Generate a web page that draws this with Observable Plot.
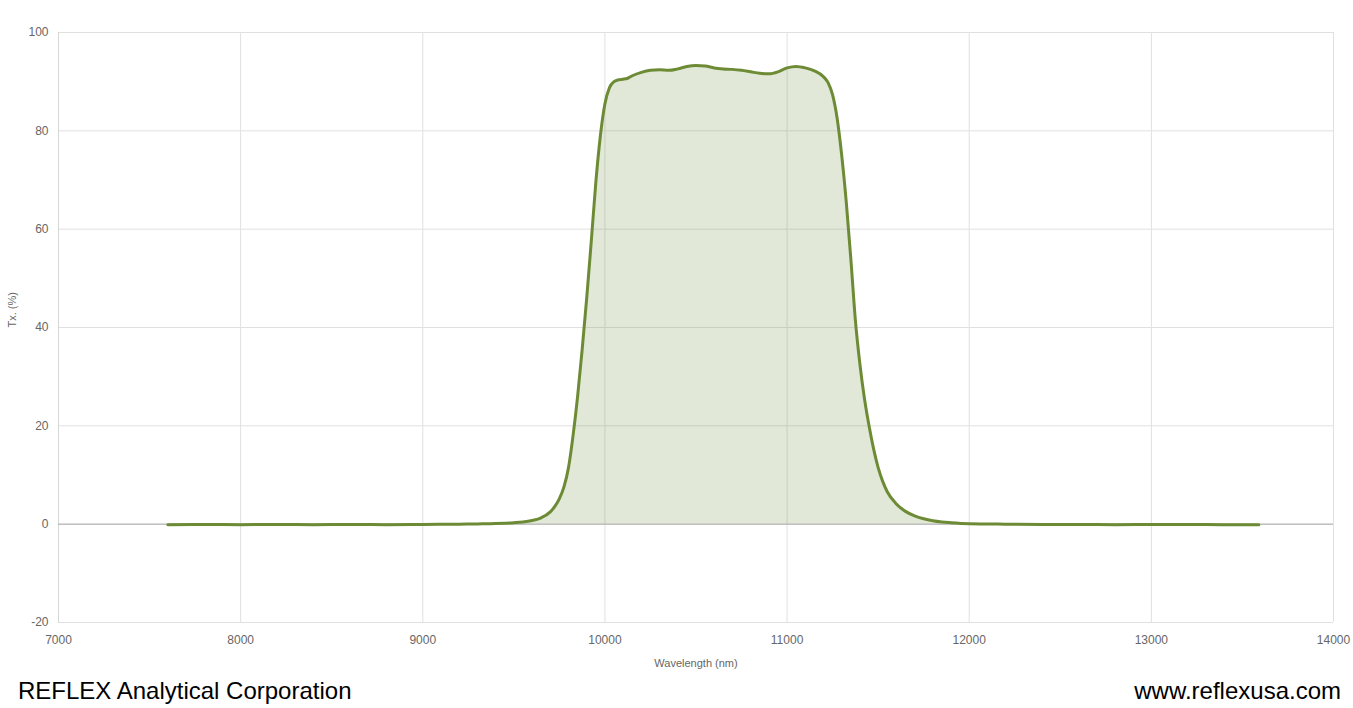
<!DOCTYPE html>
<html>
<head>
<meta charset="utf-8">
<script src="https://cdn.jsdelivr.net/npm/d3@7"></script>
<script src="https://cdn.jsdelivr.net/npm/@observablehq/plot@0.6"></script>
<style>
  html, body { margin: 0; padding: 0; background: #fff; }
  body { width: 1353px; height: 708px; position: relative; overflow: hidden; font-family: "Liberation Sans", Arial, sans-serif; }
  #chart { position: absolute; left: 0; top: 0; }
  .foot { position: absolute; top: 677px; font-size: 24px; line-height: 28px; color: #000; font-family: "Liberation Sans", Arial, sans-serif; }
  #left { left: 18px; }
  #right { right: 12px; }
</style>
</head>
<body>
<div id="chart"></div>
<div class="foot" id="left">REFLEX Analytical Corporation</div>
<div class="foot" id="right">www.reflexusa.com</div>
<script>
const wavelength = [
  7600, 7800, 8000, 8200, 8400, 8600, 8800, 9000, 9200, 9300, 9400, 9450, 9500, 9550, 9600, 9650,
  9700, 9725, 9750, 9775, 9800, 9825, 9850, 9875, 9900, 9925, 9950, 9975, 10000, 10025, 10050, 10075,
  10100, 10125, 10150, 10200, 10250, 10300, 10350, 10400, 10450, 10500, 10550, 10600, 10650, 10700,
  10750, 10800, 10850, 10900, 10950, 11000, 11050, 11100, 11150, 11200, 11225, 11250, 11275, 11300,
  11325, 11350, 11375, 11400, 11425, 11450, 11475, 11500, 11525, 11550, 11600, 11650, 11700, 11750,
  11800, 11850, 11900, 12000, 12200, 12400, 12600, 12800, 13000, 13200, 13400, 13590
];
const transmission = [
  -0.1, -0.05, -0.1, -0.05, -0.1, -0.05, -0.1, -0.05, 0, 0.05, 0.12, 0.2, 0.3, 0.45, 0.75, 1.3,
  2.5, 3.6, 5.2, 7.6, 11.5, 18, 26, 35.5, 46, 57.5, 69.5, 79, 85.5, 88.8, 90, 90.4,
  90.5, 90.7, 91.2, 91.9, 92.3, 92.4, 92.3, 92.6, 93.1, 93.3, 93.2, 92.8, 92.6, 92.5,
  92.3, 92, 91.7, 91.6, 92, 92.8, 93.1, 92.8, 92.2, 91, 89.8, 87.3, 82.5, 75,
  65.5, 54, 41.5, 32.5, 25.5, 20, 15.3, 11.5, 8.7, 6.6, 4.1, 2.6, 1.7, 1.1,
  0.7, 0.45, 0.3, 0.1, 0, -0.05, -0.05, -0.1, -0.05, -0.05, -0.1, -0.1
];
const xTicks = [7000, 8000, 9000, 10000, 11000, 12000, 13000, 14000];
const yTicks = [-20, 0, 20, 40, 60, 80, 100];
const xLabel = "Wavelength (nm)";
const yLabel = "Tx. (%)";

const data = wavelength.map((w, i) => ({w, t: transmission[i]}));
const lineColor = "#6d8b35";

const chart = Plot.plot({
  width: 1353,
  height: 675,
  marginTop: 32,
  marginBottom: 53,
  marginLeft: 58,
  marginRight: 20,
  style: {fontFamily: "'Liberation Sans', Arial, sans-serif", fontSize: "12px", background: "#fff"},
  x: {domain: [7000, 14000], ticks: xTicks},
  y: {domain: [-20, 100], ticks: yTicks},
  marks: [
    Plot.gridX(xTicks, {stroke: "#e0e0e0", strokeOpacity: 1}),
    Plot.gridY(yTicks, {stroke: "#e0e0e0", strokeOpacity: 1}),
    Plot.ruleX([7000], {stroke: "#d6d6d6"}),
    Plot.areaY(data, {x: "w", y: "t", fill: lineColor, fillOpacity: 0.2, curve: "monotone-x"}),
    Plot.ruleY([0], {stroke: "#aaaaaa", strokeWidth: 1}),
    Plot.lineY(data, {x: "w", y: "t", stroke: lineColor, strokeWidth: 3, curve: "monotone-x"}),
    Plot.axisX(xTicks, {tickSize: 0, tickPadding: 13, fill: "#666", fontSize: 12, label: null, tickFormat: d => String(d)}),
    Plot.axisY(yTicks, {tickSize: 0, tickPadding: 10, fill: "#666", fontSize: 12, label: null, tickFormat: d => String(d)}),
    Plot.text([xLabel], {frameAnchor: "bottom", dy: 44, fill: "#666", fontSize: 11}),
    Plot.text([yLabel], {frameAnchor: "left", dx: -46, rotate: -90, fill: "#666", fontSize: 11})
  ]
});
document.getElementById("chart").appendChild(chart);
</script>
</body>
</html>
